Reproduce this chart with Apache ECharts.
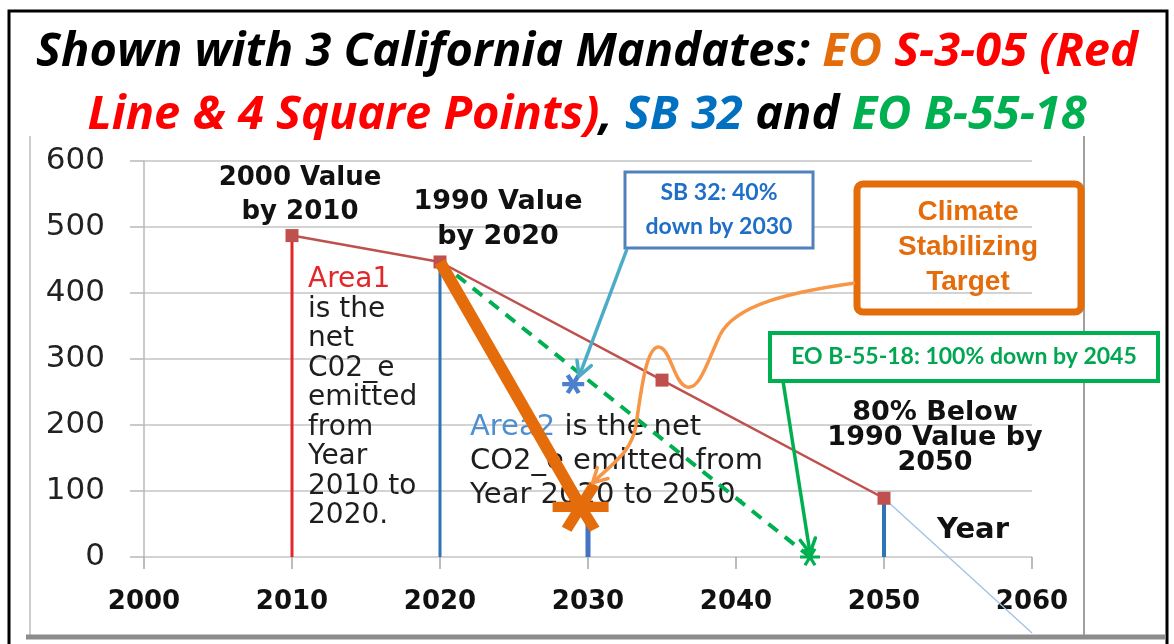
<!DOCTYPE html>
<html>
<head>
<meta charset="utf-8">
<style>
  html, body { margin: 0; padding: 0; background: #fff; }
  #chart { width: 1174px; height: 644px; }
</style>
<script src="https://cdn.jsdelivr.net/npm/echarts@6/dist/echarts.min.js"></script>
</head>
<body>
<div id="chart"></div>
<script>
// EO S-3-05 path (red line, 4 square points)
const years = [2010, 2020, 2035, 2050];
const eoS305 = [487, 447, 268, 89];
// vertical drop lines under the targets
const dropYears = [2010, 2020, 2030, 2050];
const dropTops = [487, 447, 52, 89];
// climate stabilizing target (thick orange)
const climateYears = [2020, 2029.5];
const climateVals = [447, 76];
// EO B-55-18 (green dashed)
const eoB5518Years = [2020, 2045];
const eoB5518Vals = [447, 0];
// SB 32 point
const sb32Year = [2029];
const sb32Val = [262];
// thin trend past 2050
const trendYears = [2050, 2060];
const trendVals = [89, -115];

const pairs = (xs, ys) => xs.map((x, i) => [x, ys[i]]);

// asterisk symbol built from three bars
function asterisk(w) {
  let d = '';
  [0, Math.PI / 3, 2 * Math.PI / 3].forEach(a => {
    const c = Math.cos(a), s = Math.sin(a);
    const px = -s * w / 2, py = c * w / 2;
    const pts = [
      [-0.5 * c + px, -0.5 * s + py],
      [0.5 * c + px, 0.5 * s + py],
      [0.5 * c - px, 0.5 * s - py],
      [-0.5 * c - px, -0.5 * s - py]
    ].map(p => (p[0] * 100 + 50).toFixed(2) + ' ' + (p[1] * 100 + 50).toFixed(2));
    d += 'M' + pts.join(' L') + ' Z ';
  });
  return 'path://' + d;
}

// only the end point of a two-point line gets a symbol
const endOnly = (xs, ys, sym, size) => [
  { value: [xs[0], ys[0]], symbol: 'none' },
  { value: [xs[1], ys[1]], symbol: sym, symbolSize: size }
];

const dropColors = ['#E3262A', '#2E75B6', '#4472C4', '#2E75B6'];
const dropWidths = [3, 3, 5, 4];

const titleFont = { fontSize: 47, fontWeight: 'bold', fontStyle: 'italic', fontFamily: 'Open Sans', lineHeight: 63 };

const chart = echarts.init(document.getElementById('chart'));

const option = {
  animation: false,
  backgroundColor: '#fff',
  title: {
    left: 'center',
    top: 16,
    text: '{k|Shown with 3 California Mandates: }{o|EO }{r|S-3-05 (Red}\n{r|Line & 4 Square Points)}{k|, }{b|SB 32}{k| and }{g|EO B-55-18}',
    textStyle: {
      rich: {
        k: Object.assign({ color: '#000' }, titleFont),
        o: Object.assign({ color: '#E46C0A' }, titleFont),
        r: Object.assign({ color: '#FF0000' }, titleFont),
        b: Object.assign({ color: '#0070C0' }, titleFont),
        g: Object.assign({ color: '#00B050' }, titleFont)
      }
    }
  },
  grid: { left: 144, right: 142, top: 161, bottom: 87 },
  xAxis: {
    type: 'value', min: 2000, max: 2060, interval: 10,
    axisLine: { show: false },
    axisTick: { show: true, length: 12, lineStyle: { color: '#A6A6A6', width: 1.5 } },
    splitLine: { show: false },
    axisLabel: {
      margin: 32, color: '#111', fontSize: 26, fontWeight: 'bold', fontFamily: 'DejaVu Sans',
      formatter: v => String(v)
    }
  },
  yAxis: {
    type: 'value', min: 0, max: 600, interval: 100,
    axisLine: { show: true, lineStyle: { color: '#B8B8B8', width: 1.5 } },
    axisTick: { show: true, length: 14, lineStyle: { color: '#B8B8B8', width: 1.5 } },
    splitLine: { show: true, lineStyle: { color: '#C4C4C4', width: 1.5 } },
    axisLabel: { margin: 39, color: '#222', fontSize: 31, fontFamily: 'DejaVu Sans' }
  },
  series: [
    ...dropYears.map((y, i) => ({
      type: 'line', z: 2, symbol: 'none',
      data: [[y, 0], [y, dropTops[i]]],
      lineStyle: { color: dropColors[i], width: dropWidths[i] }
    })),
    {
      type: 'line', z: 3, name: 'trend', symbol: 'none', clip: false,
      data: pairs(trendYears, trendVals),
      lineStyle: { color: '#9DC3E6', width: 1.3 }
    },
    {
      type: 'line', z: 4, name: 'EO S-3-05',
      data: pairs(years, eoS305),
      symbol: 'rect', symbolSize: 13,
      itemStyle: { color: '#C0504D' },
      lineStyle: { color: '#C0504D', width: 2.5 }
    },
    {
      type: 'line', z: 5, name: 'EO B-55-18',
      data: endOnly(eoB5518Years, eoB5518Vals, asterisk(0.16), [20, 18]),
      showSymbol: true,
      itemStyle: { color: '#00B050' },
      lineStyle: { color: '#00B050', width: 4, type: [12, 9] }
    },
    {
      type: 'line', z: 6, name: 'Climate',
      data: endOnly(climateYears, climateVals, asterisk(0.2), [56, 50]),
      showSymbol: true,
      itemStyle: { color: '#E46C0A' },
      lineStyle: { color: '#E46C0A', width: 12 }
    },
    {
      type: 'scatter', z: 7, name: 'SB 32',
      data: pairs(sb32Year, sb32Val),
      symbol: asterisk(0.2), symbolSize: [22, 20],
      itemStyle: { color: '#1F5FC0' }
    }
  ]
};

chart.setOption(option);

function arrowHead(tip, from, color, len, width, z) {
  const dx = tip[0] - from[0], dy = tip[1] - from[1];
  const L = Math.hypot(dx, dy), ux = dx / L, uy = dy / L;
  const ang = 0.5;
  const p1 = [tip[0] - len * (ux * Math.cos(ang) - uy * Math.sin(ang)), tip[1] - len * (uy * Math.cos(ang) + ux * Math.sin(ang))];
  const p2 = [tip[0] - len * (ux * Math.cos(-ang) - uy * Math.sin(-ang)), tip[1] - len * (uy * Math.cos(-ang) + ux * Math.sin(-ang))];
  return { type: 'polyline', z, shape: { points: [p1, tip, p2] }, style: { stroke: color, lineWidth: width, fill: null, lineJoin: 'round', lineCap: 'round' } };
}

const sbPx = chart.convertToPixel({ gridIndex: 0 }, [sb32Year[0], sb32Val[0]]);
const greenEnd = chart.convertToPixel({ gridIndex: 0 }, [eoB5518Years[1], eoB5518Vals[1]]);
const climEnd = chart.convertToPixel({ gridIndex: 0 }, [climateYears[1], climateVals[1]]);

const sbTip = [sbPx[0] + 6, sbPx[1] - 8];
const sbFrom = [627, 249];
const gTip = [greenEnd[0], greenEnd[1] - 4];
const gFrom = [783, 381];
const oTip = [climEnd[0] + 12, climEnd[1] - 24];

const darkText = '#1E1E1E';
const orangeCurve = { stroke: '#F79646', lineWidth: 3.5, fill: null };

chart.setOption({
  graphic: [
    // outer frame
    { type: 'rect', z: 0, shape: { x: 9, y: 11, width: 1158, height: 660 }, style: { fill: null, stroke: '#000', lineWidth: 3 } },
    { type: 'line', z: 0, shape: { x1: 30, y1: 136, x2: 30, y2: 636 }, style: { stroke: '#CDCDCD', lineWidth: 2 } },
    { type: 'line', z: 0, shape: { x1: 1084, y1: 136, x2: 1084, y2: 636 }, style: { stroke: '#A0A0A0', lineWidth: 2 } },
    { type: 'line', z: 0, shape: { x1: 26, y1: 637, x2: 1166, y2: 637 }, style: { stroke: '#8C8C8C', lineWidth: 5 } },

    // point captions
    { type: 'text', z: 1, x: 300, y: 161, style: { text: '2000 Value\nby 2010', fill: '#111', font: 'bold 26px "DejaVu Sans"', lineHeight: 34, align: 'center', verticalAlign: 'top' } },
    { type: 'text', z: 1, x: 498, y: 184, style: { text: '1990 Value\nby 2020', fill: '#111', font: 'bold 27px "DejaVu Sans"', lineHeight: 35, align: 'center', verticalAlign: 'top' } },
    { type: 'text', z: 1, x: 935, y: 400, style: { text: '80% Below\n1990 Value by\n2050', fill: '#111', font: 'bold 27px "DejaVu Sans"', lineHeight: 25, align: 'center', verticalAlign: 'top' } },
    { type: 'text', z: 1, x: 973, y: 530, style: { text: 'Year', fill: '#111', font: 'bold 29px "DejaVu Sans"', align: 'center', verticalAlign: 'middle' } },

    // area notes
    { type: 'text', z: 1, x: 308, y: 265, style: {
      text: '{r|Area1}\nis the\nnet\nC02_e\nemitted\nfrom\nYear\n2010 to\n2020.',
      fill: darkText, font: '28px "DejaVu Sans"', lineHeight: 29.5, align: 'left', verticalAlign: 'top',
      rich: { r: { fill: '#E3262A', font: '28px "DejaVu Sans"', lineHeight: 29.5 } }
    } },
    { type: 'text', z: 1, x: 470, y: 410, style: {
      text: '{b|Area2} is the net\nCO2_e emitted from\nYear 2020 to 2050.',
      fill: darkText, font: '29px "DejaVu Sans"', lineHeight: 34, align: 'left', verticalAlign: 'top',
      rich: { b: { fill: '#4F8FCF', font: '29px "DejaVu Sans"', lineHeight: 34 } }
    } },

    // SB 32 box + arrow
    { type: 'rect', z: 20, shape: { x: 625, y: 172, width: 188, height: 76 }, style: { fill: '#fff', stroke: '#4F81BD', lineWidth: 3 } },
    { type: 'text', z: 21, x: 719, y: 176, style: { text: 'SB 32: 40%\ndown by 2030', fill: '#1F6FC8', font: 'bold 23px Lato', lineHeight: 34, align: 'center', verticalAlign: 'top' } },
    { type: 'line', z: 20, shape: { x1: sbFrom[0], y1: sbFrom[1], x2: sbTip[0], y2: sbTip[1] }, style: { stroke: '#4BACC6', lineWidth: 3.5 } },
    arrowHead(sbTip, sbFrom, '#4BACC6', 16, 3.5, 20),

    // climate target box + curly arrow
    { type: 'rect', z: 20, shape: { x: 857, y: 184, width: 224, height: 128, r: 6 }, style: { fill: null, stroke: '#E46C0A', lineWidth: 7 } },
    { type: 'text', z: 21, x: 968, y: 195, style: { text: 'Climate\nStabilizing\nTarget', fill: '#E46C0A', font: 'bold 28px "Liberation Sans"', lineHeight: 35, align: 'center', verticalAlign: 'top' } },
    { type: 'bezierCurve', z: 20, shape: { x1: 855, y1: 283, cpx1: 790, cpy1: 292, cpx2: 735, cpy2: 305, x2: 720, y2: 335 }, style: orangeCurve },
    { type: 'bezierCurve', z: 20, shape: { x1: 720, y1: 335, cpx1: 708, cpy1: 360, cpx2: 700, cpy2: 390, x2: 687, y2: 387 }, style: orangeCurve },
    { type: 'bezierCurve', z: 20, shape: { x1: 687, y1: 387, cpx1: 674, cpy1: 384, cpx2: 670, cpy2: 346, x2: 658, y2: 347 }, style: orangeCurve },
    { type: 'bezierCurve', z: 20, shape: { x1: 658, y1: 347, cpx1: 646, cpy1: 348, cpx2: 641, cpy2: 392, x2: 636, y2: 425 }, style: orangeCurve },
    { type: 'bezierCurve', z: 20, shape: { x1: 636, y1: 425, cpx1: 632, cpy1: 452, cpx2: 612, cpy2: 464, x2: oTip[0], y2: oTip[1] }, style: orangeCurve },
    arrowHead(oTip, [612, 464], '#F79646', 16, 3.5, 20),

    // EO B-55-18 box + arrow
    { type: 'rect', z: 20, shape: { x: 770, y: 333, width: 388, height: 48 }, style: { fill: '#fff', stroke: '#00B050', lineWidth: 4 } },
    { type: 'text', z: 21, x: 964, y: 357, style: { text: 'EO B-55-18: 100% down by 2045', fill: '#00A651', font: 'bold 23px Lato', align: 'center', verticalAlign: 'middle' } },
    { type: 'line', z: 20, shape: { x1: gFrom[0], y1: gFrom[1], x2: gTip[0], y2: gTip[1] }, style: { stroke: '#00B050', lineWidth: 3.5 } },
    arrowHead(gTip, gFrom, '#00B050', 16, 3.5, 20)
  ]
});
</script>
</body>
</html>
